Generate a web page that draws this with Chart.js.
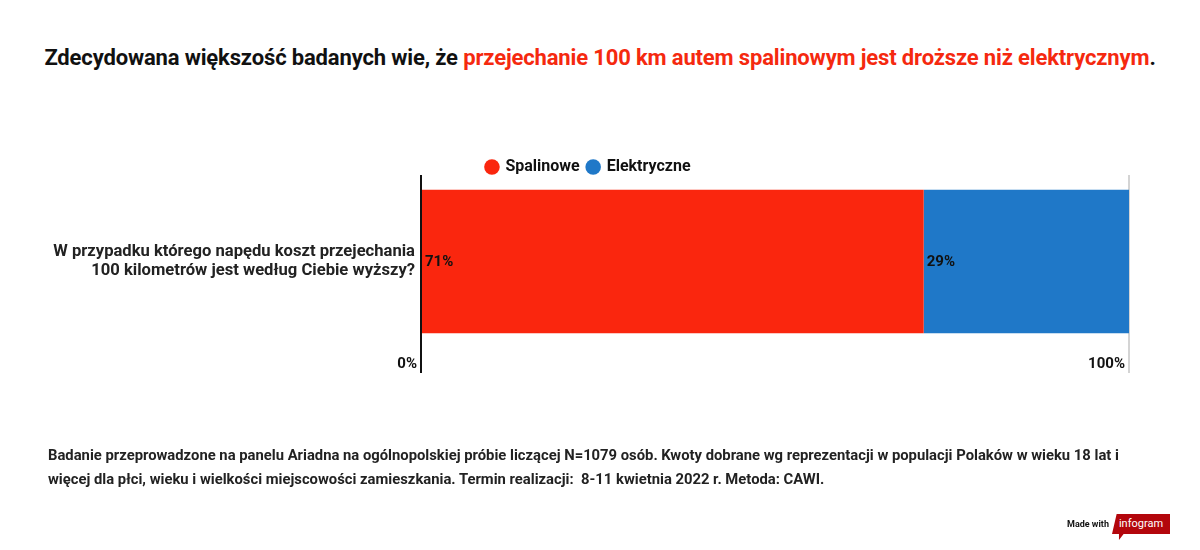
<!DOCTYPE html>
<html>
<head>
<meta charset="utf-8">
<script src="https://cdn.jsdelivr.net/npm/chart.js@4.4.0/dist/chart.umd.min.js"></script>
<style>
  body { margin: 0; background: #fff; font-family: Roboto, sans-serif; }
  #wrap { position: relative; width: 1200px; height: 550px; overflow: hidden; }
  #myChart { position: absolute; left: 0; top: 0; }
  .title { position: absolute; left: 0; top: 45px; width: 1200px; text-align: center;
           font-size: 22px; font-weight: 700; color: #111; letter-spacing: -0.15px; }
  .title span { color: #f5290f; }
  .note { position: absolute; left: 48px; top: 443px; width: 1080px; font-size: 14.8px;
          font-weight: 700; color: #222; line-height: 24px; }
  .made { position: absolute; left: 1067px; top: 519px; font-size: 9px; font-weight: 700; color: #111; }
  .logo { position: absolute; left: 1112px; top: 514px; width: 58px; height: 26px; background: #b3060c;
          clip-path: polygon(8% 0, 100% 0, 100% 77%, 20% 77%, 12% 100%, 12% 77%, 0 77%);
          color: #fff; font-size: 11px; text-align: center; line-height: 19px; }
</style>
</head>
<body>
<div id="wrap">
  <div class="title">Zdecydowana większość badanych wie, że <span>przejechanie 100 km autem spalinowym jest droższe niż elektrycznym</span>.</div>
  <canvas id="myChart" width="1200" height="550"></canvas>
  <div class="note">Badanie przeprowadzone na panelu Ariadna na ogólnopolskiej próbie liczącej N=1079 osób. Kwoty dobrane wg reprezentacji w populacji Polaków w wieku 18 lat i więcej dla płci, wieku i wielkości miejscowości zamieszkania. Termin realizacji:&nbsp; 8-11 kwietnia 2022 r. Metoda: CAWI.</div>
  <div class="made">Made with</div>
  <div class="logo">infogram</div>
</div>
<script>
var categories   = [['W przypadku którego napędu koszt przejechania', '100 kilometrów jest według Ciebie wyższy?']];
var spalinowe    = [71];
var elektryczne  = [29];
var tick_step    = 100;

var red  = '#fa260e';
var blue = '#1f78c8';

// percentage text at the left edge of each segment
var barLabels = {
    id: 'barLabels',
    afterDatasetsDraw: function(chart){
        var ctx = chart.ctx;
        ctx.save();
        ctx.font = '700 15px Roboto';
        ctx.fillStyle = '#111';
        ctx.textAlign = 'left';
        ctx.textBaseline = 'middle';
        chart.data.datasets.forEach(function(ds, i){
            chart.getDatasetMeta(i).data.forEach(function(bar, j){
                ctx.fillText(ds.data[j] + '%', bar.base + 3, bar.y + 1);
            });
        });
        ctx.restore();
    }
};

var data = {
    labels: categories,
    datasets: [
        {
            label: 'Spalinowe',
            backgroundColor: red,
            borderColor: red,
            data: spalinowe,
        },
        {
            label: 'Elektryczne',
            backgroundColor: blue,
            borderColor: blue,
            data: elektryczne,
        },
    ]
};

var config = {
    type: 'bar',
    data,
    plugins: [barLabels],
    options: {
        indexAxis: 'y',
        responsive: false,
        animation: false,
        layout: { padding: { left: 48, right: 71, top: 159, bottom: 172 } },
        datasets: { bar: { barPercentage: 0.83, categoryPercentage: 1 } },
        plugins: {
            legend: {
                position: 'top',
                maxHeight: 16,
                labels: {
                    usePointStyle: true,
                    pointStyle: 'circle',
                    boxWidth: 11,
                    boxHeight: 11,
                    padding: 0,
                    color: '#111',
                    font: { family: 'Roboto', size: 16, weight: '700', lineHeight: 1 },
                    generateLabels: function(chart){
                        var items = Chart.defaults.plugins.legend.labels.generateLabels(chart);
                        items.forEach(function(it, i){
                            if (i < items.length - 1) it.text = it.text + '  ';
                        });
                        return items;
                    }
                }
            },
            tooltip: { enabled: false }
        },
        scales: {
            x: {
                stacked: true,
                min: 0,
                max: 100,
                afterFit: function(scale){ scale.height = 30; },
                border: { display: false },
                grid: {
                    tickLength: 25,
                    lineWidth: 2,
                    color: function(c){ return c.tick && c.tick.value === 0 ? '#111' : '#d4d4d4'; }
                },
                ticks: {
                    stepSize: tick_step,
                    autoSkip: false,
                    align: 'end',
                    labelOffset: -4,
                    padding: -18,
                    color: '#111',
                    font: { family: 'Roboto', size: 15, weight: '700' },
                    callback: function(v){ return v + '%'; }
                }
            },
            y: {
                stacked: true,
                afterFit: function(scale){ scale.width = 373; },
                border: { display: false },
                grid: { display: false, drawTicks: false },
                ticks: {
                    padding: 6,
                    color: '#222',
                    font: { family: 'Roboto', size: 16.6, weight: '700', lineHeight: 1.15 }
                }
            }
        }
    }
};

var myChart = new Chart(
    document.getElementById('myChart'),
    config
);
</script>
</body>
</html>
